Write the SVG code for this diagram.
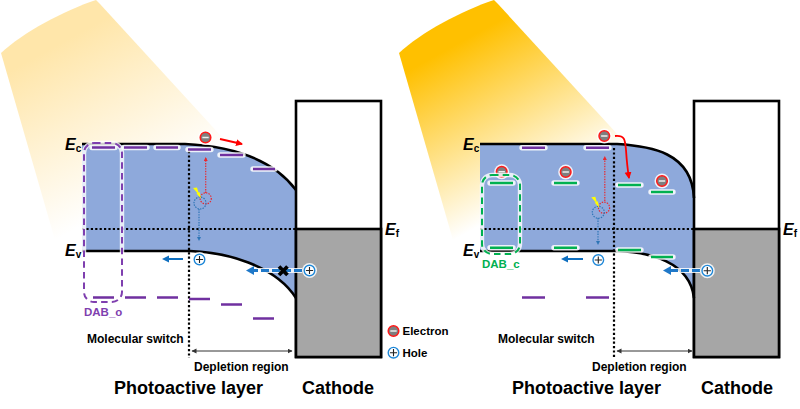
<svg xmlns="http://www.w3.org/2000/svg" xmlns:xlink="http://www.w3.org/1999/xlink" width="800" height="409" viewBox="0 0 800 409">
<style>
text{font-family:"Liberation Sans",Arial,sans-serif;font-weight:700;fill:#000}
.t12{font-size:12px}.t18{font-size:18px}.t11{font-size:11.5px}.t115{font-size:11.5px}
.E{font-size:16px;font-style:italic}.sub{font-size:10px;font-style:normal}
.band{fill:#8EA9DB;stroke:none}
.edge{fill:none;stroke:#000;stroke-width:2.6}
.cat{fill:#fff;stroke:#000;stroke-width:2.6}
.gray{fill:#A6A6A6;stroke:#000;stroke-width:2.6}
.dot{fill:none;stroke:#000;stroke-width:2.2;stroke-dasharray:2.2 2.2}
.halo{stroke:#fff;stroke-width:5.4;stroke-linecap:round;opacity:.85;fill:none}
.pu{stroke:#7030A0;stroke-width:2.4;fill:none}
.gr{stroke:#00B050;stroke-width:2.4;fill:none}
.boxh{fill:none;stroke:#fff;stroke-width:4.4;opacity:.8}
.pbox{fill:none;stroke:#7F3FAF;stroke-width:2;stroke-dasharray:6.5 4.2}
.gbox{fill:none;stroke:#00B050;stroke-width:2;stroke-dasharray:6.5 4.2}
.rd{fill:none;stroke:#E8282E;stroke-width:1.2;stroke-dasharray:1.4 1.2}
.bd{fill:none;stroke:#2E75B6;stroke-width:1.2;stroke-dasharray:1.4 1.2}
.ra{fill:none;stroke:#FF0000;stroke-width:1.8}
.ba{fill:none;stroke:#0F6FBF;stroke-width:2}
.bdash{fill:none;stroke:#1F78C8;stroke-width:2.8;stroke-dasharray:8 3}
.bdashh{fill:none;stroke:#fff;stroke-width:5;opacity:.85}
.bolt{fill:#FFFF00;stroke:none}
</style>
<defs>
<linearGradient id="beamL" gradientUnits="userSpaceOnUse" x1="27" y1="40" x2="118" y2="206"><stop offset=".1" stop-color="#FFE6AA"/><stop offset="1" stop-color="#FFFFFF"/></linearGradient>
<linearGradient id="beamR" gradientUnits="userSpaceOnUse" x1="425" y1="40" x2="516" y2="206"><stop offset=".1" stop-color="#FFC000"/><stop offset="1" stop-color="#FFFFFF"/></linearGradient>
<marker id="mr" markerUnits="userSpaceOnUse" markerWidth="8" markerHeight="8" refX="6" refY="3.5" orient="auto"><path d="M0 0L7 3.5L0 7z" fill="#FF0000"/></marker>
<marker id="mrs" markerUnits="userSpaceOnUse" markerWidth="5" markerHeight="5" refX="3" refY="2" orient="auto"><path d="M0 0L4 2L0 4z" fill="#E8282E"/></marker>
<marker id="mbs" markerUnits="userSpaceOnUse" markerWidth="5" markerHeight="5" refX="3" refY="2" orient="auto"><path d="M0 0L4 2L0 4z" fill="#2E75B6"/></marker>
<marker id="mb" markerUnits="userSpaceOnUse" markerWidth="8" markerHeight="8" refX="5" refY="3.5" orient="auto"><path d="M0 0L7 3.5L0 7z" fill="#0F6FBF"/></marker>
<marker id="mbl" markerUnits="userSpaceOnUse" markerWidth="10" markerHeight="10" refX="2" refY="4.5" orient="auto"><path d="M0 0L8 4.5L0 9z" fill="#1F78C8"/></marker>
<marker id="mk" markerUnits="userSpaceOnUse" markerWidth="6" markerHeight="6" refX="4.5" refY="2.5" orient="auto-start-reverse"><path d="M0 0L5 2.5L0 5z" fill="#333"/></marker>
<g id="el"><circle r="7.5" fill="#fff" opacity=".85"/><circle r="5.3" fill="#7F7F7F" stroke="#FF1A1A" stroke-width="1.5"/><path d="M-3.2 0H3.2" stroke="#eee" stroke-width="1.5"/></g>
<g id="ho"><circle r="7.5" fill="#fff" opacity=".85"/><circle r="5.3" fill="#fff" stroke="#1F88D8" stroke-width="1.4"/><path d="M-3.6 0H3.6M0 -3.6V3.6" stroke="#222" stroke-width="1.1"/></g>
<g id="ex"><circle cx="5.7" cy="-4.6" r="5.6" class="rd"/><circle r="6" class="bd"/><path class="bolt" d="M-7 -15L-3 -15.5L-1.5 -10.5L-.5 -11L1 -4.5L-3.5 -9.5L-2.6 -10z"/></g>
</defs>

<g id="light-left"><path d="M1 53C22 33 65 10 96 0L100 4L232 148L55 240z" fill="url(#beamL)"/></g>
<g id="light-right"><path d="M399 53C420 33 463 10 494 0L498 4L630 148L453 240z" fill="url(#beamR)"/></g>

<g id="panel-left">
<path class="band" d="M82 144H185C225 146 270 155 296 190V298C275 265 225 252 190 251H82z"/>
<rect id="cathode-left" class="cat" x="296" y="101" width="85" height="256"/>
<rect class="gray" x="296" y="229" width="85" height="128"/>
<path class="edge" d="M82 144H185C225 146 270 155 296 190"/>
<path class="edge" d="M82 251H190C225 252 275 265 296 298"/>
<path class="dot" d="M82 229H296"/>
<path class="dot" d="M189 151V358"/>
</g>

<g id="panel-right">
<path class="band" d="M480 144H617C650 146 692 152 694 198V298C690 262 650 252 617 251H480z"/>
<rect id="cathode-right" class="cat" x="694" y="101" width="85" height="256"/>
<rect class="gray" x="694" y="229" width="85" height="128"/>
<path class="edge" d="M480 144H617C650 146 692 152 694 198"/>
<path class="edge" d="M480 251H617C650 252 690 262 694 298"/>
<path class="dot" d="M480 229H694"/>
<path class="dot" d="M614 148V358"/>
</g>

<g id="levels-left">
<path class="halo" d="M92 147.5H115M124 147.5H147M156 147.5H178M188 149.5H211M220 155H243M253 169H275"/>
<path class="pu" d="M92 147.5H115M124 147.5H147M156 147.5H178M188 149.5H211M220 155H243M253 169H275"/>
<path class="pu" d="M93 297.5H114M125 297.5H146M157 297.5H178M189 299H210M221 304.5H242M253 318.5H274"/>
</g>
<g id="levels-right">
<path class="halo" d="M522 147.7H545M586 147.7H609"/>
<path class="pu" d="M522 147.7H545M586 147.7H609M522 297.5H545M586 297.5H609"/>
<path class="halo" d="M490 183H513M554 183H577M618 185H641M651 192H673M490 247.7H513M554 247.7H577M618 250H641M651 257H673"/>
<path class="gr" d="M490 183H513M554 183H577M618 185H641M651 192H673M490 247.7H513M554 247.7H577M618 250H641M651 257H673"/>
</g>

<g id="charges-left">
<use xlink:href="#el" href="#el" x="205.5" y="137.5"/>
<path class="ra" d="M220 139L242 144" marker-end="url(#mr)"/>
<use xlink:href="#ex" href="#ex" x="200" y="203"/>
<path class="rd" d="M205.7 193V158" marker-end="url(#mrs)"/>
<path class="bd" d="M199 209V240" marker-end="url(#mbs)"/>
<use xlink:href="#ho" href="#ho" x="199.5" y="259.5"/>
<path class="ba" d="M183 259H164" marker-end="url(#mb)"/>
<path class="bdashh" d="M302 270.5H250"/>
<path class="bdash" d="M302 270.5H252" marker-end="url(#mbl)"/>
<path d="M279 266.5L287.5 275M287.5 266.5L279 275" stroke="#000" stroke-width="3.8"/>
<use xlink:href="#ho" href="#ho" x="309.5" y="270.5"/>
</g>
<g id="charges-right">
<use xlink:href="#el" href="#el" x="501.7" y="171.7"/>
<use xlink:href="#el" href="#el" x="565.7" y="172"/>
<use xlink:href="#el" href="#el" x="604.3" y="136"/>
<use xlink:href="#el" href="#el" x="662" y="181"/>
<path class="ra" d="M615 136C625 135 625 140 626 150C627 165 628 172 629 178" marker-end="url(#mr)" stroke-width="2"/>
<use xlink:href="#ex" href="#ex" x="598.3" y="212.3"/>
<path class="rd" d="M604.8 201V157" marker-end="url(#mrs)"/>
<path class="bd" d="M598 218V244" marker-end="url(#mbs)"/>
<use xlink:href="#ho" href="#ho" x="598.3" y="260"/>
<path class="ba" d="M583 259H563" marker-end="url(#mb)"/>
<path class="bdashh" d="M700 270.5H668"/>
<path class="bdash" d="M700 270.5H669" marker-end="url(#mbl)"/>
<use xlink:href="#ho" href="#ho" x="707.3" y="270.7"/>
</g>

<g id="DAB_o">
<rect class="boxh" x="84" y="143" width="38" height="159" rx="10"/>
<rect class="pbox" x="84" y="143" width="38" height="159" rx="10"/>
<text x="84" y="316" class="t115" style="fill:#7F3FAF">DAB_o</text>
</g>
<g id="DAB_c">
<rect class="boxh" x="482" y="175" width="38" height="79" rx="10"/>
<rect class="gbox" x="482" y="175" width="38" height="79" rx="10"/>
<text x="482" y="268" class="t115" style="fill:#00B050">DAB_c</text>
</g>

<g id="labels-left">
<text x="65" y="150" class="E">E<tspan class="sub" dy="2">c</tspan></text>
<text x="65" y="256" class="E">E<tspan class="sub" dy="2">v</tspan></text>
<text x="385" y="235" class="E">E<tspan class="sub" dy="2">f</tspan></text>
<text x="87" y="343" class="t12">Molecular switch</text>
<path d="M192 351H292" stroke="#333" stroke-width="1" marker-start="url(#mk)" marker-end="url(#mk)"/>
<text x="194" y="371" class="t12">Depletion region</text>
<text x="114" y="394" class="t18">Photoactive layer</text>
<text x="302" y="394" class="t18">Cathode</text>
</g>
<g id="labels-right">
<text x="463" y="150" class="E">E<tspan class="sub" dy="2">c</tspan></text>
<text x="463" y="256" class="E">E<tspan class="sub" dy="2">v</tspan></text>
<text x="783" y="235" class="E">E<tspan class="sub" dy="2">f</tspan></text>
<text x="498" y="343" class="t12">Molecular switch</text>
<path d="M617 351H692" stroke="#333" stroke-width="1" marker-start="url(#mk)" marker-end="url(#mk)"/>
<text x="592" y="371" class="t12">Depletion region</text>
<text x="512" y="394" class="t18">Photoactive layer</text>
<text x="701" y="394" class="t18">Cathode</text>
</g>
<g id="legend">
<use xlink:href="#el" href="#el" x="393.5" y="331"/>
<text x="402.5" y="335" class="t11">Electron</text>
<use xlink:href="#ho" href="#ho" x="393.5" y="352.7"/>
<text x="402.5" y="357" class="t11">Hole</text>
</g>
</svg>
